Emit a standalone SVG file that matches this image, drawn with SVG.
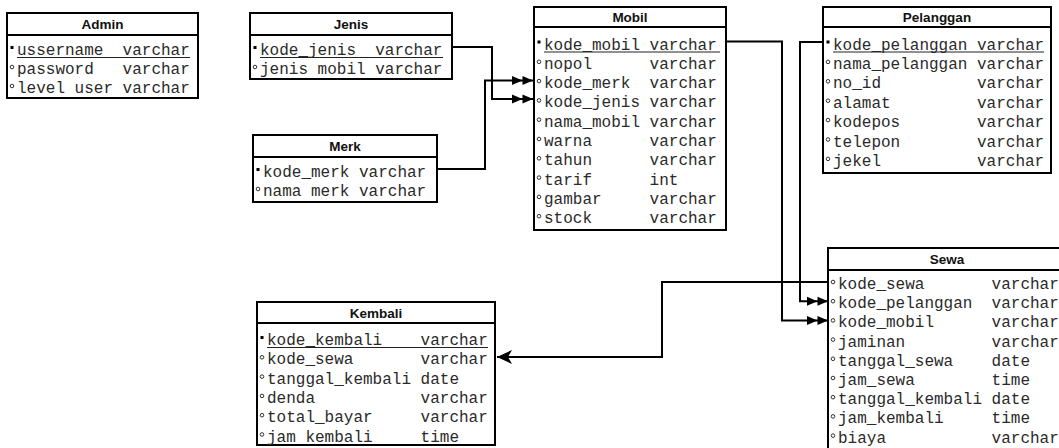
<svg xmlns="http://www.w3.org/2000/svg" width="1059" height="448" viewBox="0 0 1059 448">
<style>
.bg{fill:#fff}
.box{fill:#fff;stroke:#000;stroke-width:2}
.div{stroke:#000;stroke-width:2}
.hdr{font-family:"Liberation Sans",Arial,sans-serif;font-weight:bold;font-size:13.5px;text-anchor:middle;fill:#111}
.row{font-family:"Liberation Mono","Courier New",monospace;font-size:16px;fill:#2a2a2a}
.pk{fill:#000}
.fk{fill:#fff;stroke:#333;stroke-width:1}
.ul{stroke:#222;stroke-width:1}
.conn{fill:none;stroke:#000;stroke-width:2}
</style>
<defs>
<marker id="dbl" markerUnits="userSpaceOnUse" markerWidth="22" markerHeight="10" refX="21" refY="5" orient="auto" overflow="visible">
<path d="M0,0.5 L10.5,5 L0,9.5 Z M10.5,0.5 L21,5 L10.5,9.5 Z" fill="#000"/>
</marker>
<marker id="one" markerUnits="userSpaceOnUse" markerWidth="16" markerHeight="16" refX="15" refY="8" orient="auto" overflow="visible">
<path d="M0,1 L15,8 L0,15 L4,8 Z" fill="#000"/>
</marker>
</defs>
<rect class="bg" x="0" y="0" width="1059" height="448"/>

<g id="connectors">
<path class="conn" d="M452,47 H492 V99 H533" marker-end="url(#dbl)"/>
<path class="conn" d="M437,169 H485 V80.5 H533" marker-end="url(#dbl)"/>
<path class="conn" d="M726,41.5 H782 V320.4 H828" marker-end="url(#dbl)"/>
<path class="conn" d="M823,42 H800 V301.2 H828" marker-end="url(#dbl)"/>
<path class="conn" d="M828,282 H662 V357 H497" marker-end="url(#one)"/>
</g>

<g id="admin">
<rect class="box" x="7" y="13" width="191" height="85"/>
<line class="div" x1="7" y1="35" x2="198" y2="35"/>
<text class="hdr" x="102.5" y="29">Admin</text>
<rect class="pk" x="10.5" y="46" width="3" height="3"/>
<text class="row" x="17" y="55">ussername</text><text class="row" x="122.6" y="55">varchar</text>
<line class="ul" x1="17" y1="57.5" x2="190" y2="57.5"/>
<circle class="fk" cx="12" cy="67" r="1.8"/>
<text class="row" x="17" y="74">password</text><text class="row" x="122.6" y="74">varchar</text>
<circle class="fk" cx="12" cy="86" r="1.8"/>
<text class="row" x="17" y="93">level user</text><text class="row" x="122.6" y="93">varchar</text>
</g>

<g id="jenis">
<rect class="box" x="250" y="13" width="202" height="66"/>
<line class="div" x1="250" y1="35" x2="452" y2="35"/>
<text class="hdr" x="351" y="29">Jenis</text>
<rect class="pk" x="253.5" y="46" width="3" height="3"/>
<text class="row" x="260" y="55">kode_jenis</text><text class="row" x="375.2" y="55">varchar</text>
<line class="ul" x1="260" y1="57.5" x2="443" y2="57.5"/>
<circle class="fk" cx="255" cy="67" r="1.8"/>
<text class="row" x="260" y="74">jenis mobil</text><text class="row" x="375.2" y="74">varchar</text>
</g>

<g id="merk">
<rect class="box" x="253" y="135" width="184" height="67"/>
<line class="div" x1="253" y1="157" x2="437" y2="157"/>
<text class="hdr" x="345" y="151">Merk</text>
<rect class="pk" x="256.5" y="168" width="3" height="3"/>
<text class="row" x="263" y="177">kode_merk</text><text class="row" x="359" y="177">varchar</text>
<circle class="fk" cx="258" cy="189" r="1.8"/>
<text class="row" x="263" y="196">nama merk</text><text class="row" x="359" y="196">varchar</text>
</g>

<g id="mobil">
<rect class="box" x="534" y="7" width="192" height="223"/>
<line class="div" x1="534" y1="27" x2="726" y2="27"/>
<text class="hdr" x="630" y="22">Mobil</text>
<rect class="pk" x="537.5" y="40.5" width="3" height="3"/>
<text class="row" x="544" y="49.5">kode_mobil</text><text class="row" x="649.6" y="49.5">varchar</text>
<line class="ul" x1="544" y1="52" x2="720" y2="52"/>
<circle class="fk" cx="539" cy="61.8" r="1.8"/>
<text class="row" x="544" y="68.8">nopol</text><text class="row" x="649.6" y="68.8">varchar</text>
<circle class="fk" cx="539" cy="81.1" r="1.8"/>
<text class="row" x="544" y="88.1">kode_merk</text><text class="row" x="649.6" y="88.1">varchar</text>
<circle class="fk" cx="539" cy="100.4" r="1.8"/>
<text class="row" x="544" y="107.4">kode_jenis</text><text class="row" x="649.6" y="107.4">varchar</text>
<circle class="fk" cx="539" cy="119.7" r="1.8"/>
<text class="row" x="544" y="126.7">nama_mobil</text><text class="row" x="649.6" y="126.7">varchar</text>
<circle class="fk" cx="539" cy="139" r="1.8"/>
<text class="row" x="544" y="146">warna</text><text class="row" x="649.6" y="146">varchar</text>
<circle class="fk" cx="539" cy="158.3" r="1.8"/>
<text class="row" x="544" y="165.3">tahun</text><text class="row" x="649.6" y="165.3">varchar</text>
<circle class="fk" cx="539" cy="177.6" r="1.8"/>
<text class="row" x="544" y="184.6">tarif</text><text class="row" x="649.6" y="184.6">int</text>
<circle class="fk" cx="539" cy="196.9" r="1.8"/>
<text class="row" x="544" y="203.9">gambar</text><text class="row" x="649.6" y="203.9">varchar</text>
<circle class="fk" cx="539" cy="216.2" r="1.8"/>
<text class="row" x="544" y="223.2">stock</text><text class="row" x="649.6" y="223.2">varchar</text>
</g>

<g id="pelanggan">
<rect class="box" x="823" y="7" width="228" height="166"/>
<line class="div" x1="823" y1="27" x2="1051" y2="27"/>
<text class="hdr" x="937" y="22">Pelanggan</text>
<rect class="pk" x="826.5" y="40.5" width="3" height="3"/>
<text class="row" x="833" y="49.5">kode_pelanggan</text><text class="row" x="977" y="49.5">varchar</text>
<line class="ul" x1="833" y1="52" x2="1044" y2="52"/>
<circle class="fk" cx="828" cy="61.9" r="1.8"/>
<text class="row" x="833" y="68.9">nama_pelanggan</text><text class="row" x="977" y="68.9">varchar</text>
<circle class="fk" cx="828" cy="81.3" r="1.8"/>
<text class="row" x="833" y="88.3">no_id</text><text class="row" x="977" y="88.3">varchar</text>
<circle class="fk" cx="828" cy="100.7" r="1.8"/>
<text class="row" x="833" y="107.7">alamat</text><text class="row" x="977" y="107.7">varchar</text>
<circle class="fk" cx="828" cy="120.1" r="1.8"/>
<text class="row" x="833" y="127.1">kodepos</text><text class="row" x="977" y="127.1">varchar</text>
<circle class="fk" cx="828" cy="139.5" r="1.8"/>
<text class="row" x="833" y="146.5">telepon</text><text class="row" x="977" y="146.5">varchar</text>
<circle class="fk" cx="828" cy="158.9" r="1.8"/>
<text class="row" x="833" y="165.9">jekel</text><text class="row" x="977" y="165.9">varchar</text>
</g>

<g id="sewa">
<rect class="box" x="828" y="248" width="238" height="206"/>
<line class="div" x1="828" y1="270" x2="1066" y2="270"/>
<text class="hdr" x="947" y="264">Sewa</text>
<circle class="fk" cx="833" cy="282" r="1.8"/>
<text class="row" x="838" y="289">kode_sewa</text><text class="row" x="991.6" y="289">varchar</text>
<circle class="fk" cx="833" cy="301.2" r="1.8"/>
<text class="row" x="838" y="308.2">kode_pelanggan</text><text class="row" x="991.6" y="308.2">varchar</text>
<circle class="fk" cx="833" cy="320.4" r="1.8"/>
<text class="row" x="838" y="327.4">kode_mobil</text><text class="row" x="991.6" y="327.4">varchar</text>
<circle class="fk" cx="833" cy="339.6" r="1.8"/>
<text class="row" x="838" y="346.6">jaminan</text><text class="row" x="991.6" y="346.6">varchar</text>
<circle class="fk" cx="833" cy="358.8" r="1.8"/>
<text class="row" x="838" y="365.8">tanggal_sewa</text><text class="row" x="991.6" y="365.8">date</text>
<circle class="fk" cx="833" cy="378" r="1.8"/>
<text class="row" x="838" y="385">jam_sewa</text><text class="row" x="991.6" y="385">time</text>
<circle class="fk" cx="833" cy="397.2" r="1.8"/>
<text class="row" x="838" y="404.2">tanggal_kembali</text><text class="row" x="991.6" y="404.2">date</text>
<circle class="fk" cx="833" cy="416.4" r="1.8"/>
<text class="row" x="838" y="423.4">jam_kembali</text><text class="row" x="991.6" y="423.4">time</text>
<circle class="fk" cx="833" cy="435.6" r="1.8"/>
<text class="row" x="838" y="442.6">biaya</text><text class="row" x="991.6" y="442.6">varchar</text>
</g>

<g id="kembali">
<rect class="box" x="257" y="302" width="238" height="143"/>
<line class="div" x1="257" y1="323" x2="495" y2="323"/>
<text class="hdr" x="376" y="317.5">Kembali</text>
<rect class="pk" x="260.5" y="336" width="3" height="3"/>
<text class="row" x="267" y="345">kode_kembali</text><text class="row" x="420.6" y="345">varchar</text>
<line class="ul" x1="267" y1="347.5" x2="488" y2="347.5"/>
<circle class="fk" cx="262" cy="357.3" r="1.8"/>
<text class="row" x="267" y="364.3">kode_sewa</text><text class="row" x="420.6" y="364.3">varchar</text>
<circle class="fk" cx="262" cy="376.6" r="1.8"/>
<text class="row" x="267" y="383.6">tanggal_kembali</text><text class="row" x="420.6" y="383.6">date</text>
<circle class="fk" cx="262" cy="395.9" r="1.8"/>
<text class="row" x="267" y="402.9">denda</text><text class="row" x="420.6" y="402.9">varchar</text>
<circle class="fk" cx="262" cy="415.2" r="1.8"/>
<text class="row" x="267" y="422.2">total_bayar</text><text class="row" x="420.6" y="422.2">varchar</text>
<circle class="fk" cx="262" cy="434.5" r="1.8"/>
<text class="row" x="267" y="441.5">jam kembali</text><text class="row" x="420.6" y="441.5">time</text>
</g>
</svg>
